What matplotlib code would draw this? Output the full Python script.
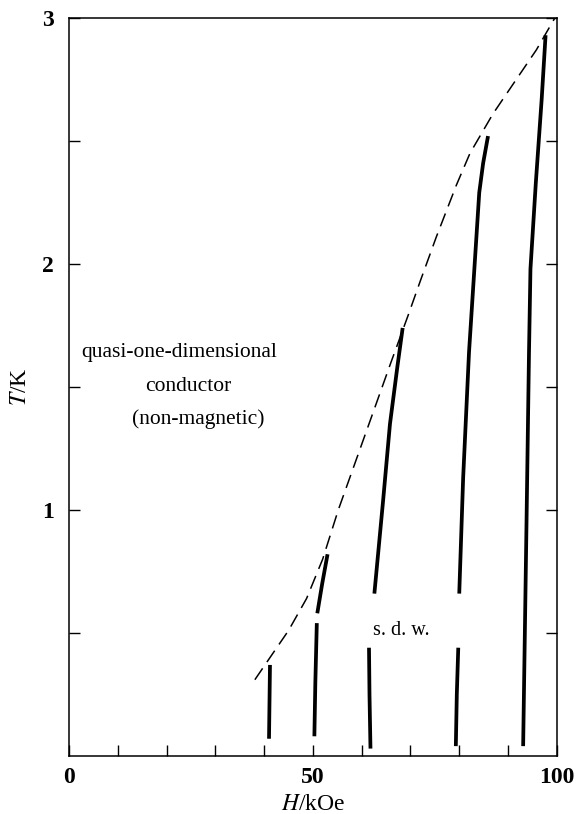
import numpy as np
import matplotlib
matplotlib.use('Agg')
import matplotlib.pyplot as plt

plt.rcParams['font.family'] = ['Liberation Serif', 'DejaVu Serif']
plt.rcParams['mathtext.fontset'] = 'stix'

# phase boundary (dashed)
boundary_H = [38.1, 41.2, 45.0, 48.7, 52.0, 55.2, 58.8, 62.4, 66.0, 69.5, 72.0,
              75.3, 79.4, 82.2, 86.9, 91.0, 95.8, 99.6]
boundary_T = [0.31, 0.40, 0.51, 0.64, 0.80, 1.00, 1.20, 1.40, 1.60, 1.79, 1.93,
              2.11, 2.32, 2.45, 2.61, 2.73, 2.87, 3.0]

# sub-phase lines (solid), each as (H, T) branches
line1_H = [41.0, 41.2]
line1_T = [0.07, 0.37]
line2a_H = [50.3, 50.5, 50.8]
line2a_T = [0.08, 0.30, 0.54]
line2b_H = [50.9, 51.9, 53.0]
line2b_T = [0.58, 0.70, 0.82]
line3a_H = [61.8, 61.6, 61.5]
line3a_T = [0.03, 0.25, 0.44]
line3b_H = [62.6, 64.4, 65.8, 67.3, 68.4]
line3b_T = [0.66, 1.04, 1.35, 1.58, 1.74]
line4a_H = [79.3, 79.5, 79.8]
line4a_T = [0.04, 0.25, 0.44]
line4b_H = [80.0, 80.8, 82.0, 83.1, 84.1, 84.9, 85.9]
line4b_T = [0.66, 1.13, 1.64, 1.98, 2.29, 2.41, 2.52]
line5_H = [93.1, 93.8, 94.3, 94.6, 95.7, 96.9, 97.7]
line5_T = [0.04, 0.96, 1.64, 1.98, 2.33, 2.67, 2.93]

solid_lines = [(line1_H, line1_T), (line2a_H, line2a_T), (line2b_H, line2b_T),
               (line3a_H, line3a_T), (line3b_H, line3b_T),
               (line4a_H, line4a_T), (line4b_H, line4b_T), (line5_H, line5_T)]

fig = plt.figure(figsize=(5.8, 8.14), dpi=100)
ax = fig.add_axes([0.119, 0.0713, 0.841, 0.9066])

ax.plot(boundary_H, boundary_T, color='black', lw=1.1, dashes=(9, 5))
for h, t in solid_lines:
    ax.plot(h, t, color='black', lw=2.7, solid_capstyle='butt')

ax.set_xlim(0, 100)
ax.set_ylim(0, 3)
ax.set_xticks([0, 50, 100])
ax.set_xticks(np.arange(10, 100, 10), minor=True)
ax.set_yticks([1, 2, 3])
ax.set_yticklabels(['1', '2', '3'])
ax.set_yticks([0.5, 1.5, 2.5], minor=True)
ax.tick_params(axis='both', which='both', direction='in', length=8, width=1.0,
               labelsize=17, top=False, right=True, pad=8)
ax.tick_params(axis='y', which='major', pad=11)
for lab in ax.get_xticklabels() + ax.get_yticklabels():
    lab.set_fontweight('bold')
for sp in ax.spines.values():
    sp.set_linewidth(1.1)

ax.set_xlabel(r'$H$/kOe', fontsize=17, labelpad=4)
ax.set_ylabel(r'$T$/K', fontsize=17, labelpad=8)

ax.text(22.5, 1.64, 'quasi-one-dimensional', fontsize=15.5, ha='center', va='center')
ax.text(24.5, 1.50, 'conductor', fontsize=15.5, ha='center', va='center')
ax.text(26.5, 1.37, '(non-magnetic)', fontsize=15.5, ha='center', va='center')
ax.text(68.2, 0.51, 's. d. w.', fontsize=14.5, ha='center', va='center')

fig.savefig('out.png', dpi=100)
